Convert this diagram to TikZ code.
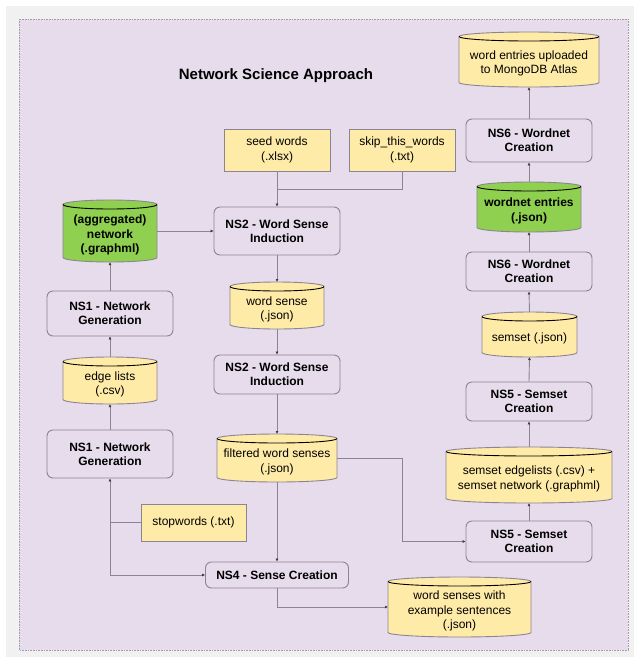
\documentclass[tikz,border=0pt]{standalone}
\usepackage{fontspec}
\setmainfont{Liberation Sans}
\usetikzlibrary{arrows.meta}
\definecolor{bggray}{RGB}{241,241,241}
\definecolor{panel}{RGB}{230,220,235}
\definecolor{stroke}{RGB}{140,132,146}
\definecolor{yel}{RGB}{255,235,168}
\definecolor{grn}{RGB}{143,208,80}
\definecolor{tip}{RGB}{60,60,60}
\tikzset{
  txt/.style={font=\fontsize{12}{14.4}\selectfont, align=center, inner sep=0pt},
  proc/.style={txt, draw=stroke, line width=0.9pt, rounded corners=6pt, font=\fontsize{12}{14.4}\selectfont\bfseries},
  filebox/.style={txt, draw=stroke, line width=0.9pt, fill=yel},
  conn/.style={draw=stroke, line width=0.9pt},
  arr/.style={conn, -{Latex[length=3pt,width=3pt,color=tip]}},
}
% \cyl{name}{cx}{cy}{w}{h}{fill}{font}{text}
\newcommand\cyl[8]{%
  \pgfmathsetmacro\cxa{#2-#4/2}%
  \pgfmathsetmacro\cxb{#2+#4/2}%
  \pgfmathsetmacro\cyt{#3-#5/2+4.5}%
  \pgfmathsetmacro\cyb{#3+#5/2-4.5}%
  \pgfmathsetmacro\kx{0.5523*#4/2}%
  \pgfmathsetmacro\ky{0.5523*4.5}%
  \path[fill=#6, draw=stroke, line width=0.9pt]
    (\cxa,\cyt) -- (\cxa,\cyb)
    .. controls (\cxa,\cyb+\ky) and (#2-\kx,\cyb+4.5) .. (#2,\cyb+4.5)
    .. controls (#2+\kx,\cyb+4.5) and (\cxb,\cyb+\ky) .. (\cxb,\cyb)
    -- (\cxb,\cyt)
    .. controls (\cxb,\cyt-\ky) and (#2+\kx,\cyt-4.5) .. (#2,\cyt-4.5)
    .. controls (#2-\kx,\cyt-4.5) and (\cxa,\cyt-\ky) .. (\cxa,\cyt) -- cycle;
  \draw[stroke, line width=0.9pt]
    (\cxa,\cyt) .. controls (\cxa,\cyt+\ky) and (#2-\kx,\cyt+4.5) .. (#2,\cyt+4.5)
    .. controls (#2+\kx,\cyt+4.5) and (\cxb,\cyt+\ky) .. (\cxb,\cyt);
  \node[txt, font=\fontsize{12}{14.4}\selectfont#7, minimum width=#4, minimum height=#5] (#1) at ({#2},{#3+4}) {#8};
  \coordinate (#1-n) at ({#2},{#3-#5/2});
  \coordinate (#1-s) at ({#2},{#3+#5/2});
  \coordinate (#1-w) at ({#2-#4/2},{#3});
  \coordinate (#1-e) at ({#2+#4/2},{#3});
}
\begin{document}
\begin{tikzpicture}[x=1pt,y=-1pt]
\useasboundingbox (0,0) rectangle (634,657);
\fill[white] (0,0) rectangle (634,657);
\fill[bggray] (6,6) rectangle (634,657);
\draw[fill=panel, draw=stroke!80, densely dotted, line width=0.6pt] (19,19) rectangle (628,650);

\node[font=\fontsize{15}{18}\selectfont\bfseries] (title) at (276,76) {Network Science Approach};

% yellow rectangles
\node[filebox, minimum width=106, minimum height=42] (seed) at (277,150) {seed words\\(.xlsx)};
\node[filebox, minimum width=106, minimum height=42] (skip) at (402,150) {skip\_this\_words\\(.txt)};
\node[filebox, minimum width=105, minimum height=37] (stop) at (193.5,522.5) {stopwords (.txt)};

% processes
\node[proc, minimum width=126, minimum height=48] (ns2a) at (277,231) {NS2 - Word Sense\\Induction};
\node[proc, minimum width=126, minimum height=39] (ns2b) at (277,374.5) {NS2 - Word Sense\\Induction};
\node[proc, minimum width=126, minimum height=45] (ns1a) at (110,313.5) {NS1 - Network\\Generation};
\node[proc, minimum width=126, minimum height=48] (ns1b) at (110,454) {NS1 - Network\\Generation};
\node[proc, minimum width=143, minimum height=26] (ns4) at (277,575) {NS4 - Sense Creation};
\node[proc, minimum width=126, minimum height=41] (ns5b) at (529,541.5) {NS5 - Semset\\Creation};
\node[proc, minimum width=126, minimum height=39] (ns5a) at (529,401.5) {NS5 - Semset\\Creation};
\node[proc, minimum width=126, minimum height=39] (ns6b) at (529,271.5) {NS6 - Wordnet\\Creation};
\node[proc, minimum width=126, minimum height=43] (ns6a) at (529,140.5) {NS6 - Wordnet\\Creation};

% cylinders
\cyl{net}{110}{231}{94}{62}{grn}{\bfseries}{(aggregated)\\network\\(.graphml)}
\cyl{edge}{110}{380.5}{94}{47}{yel}{}{edge lists\\(.csv)}
\cyl{ws}{277}{305.5}{94}{47}{yel}{}{word sense\\(.json)}
\cyl{filt}{277}{458}{120}{48}{yel}{}{filtered word senses\\(.json)}
\cyl{wse}{459.5}{607}{143}{60}{yel}{}{word senses with\\example sentences\\(.json)}
\cyl{sedge}{529}{475}{166}{56}{yel}{}{semset edgelists (.csv) +\\semset network (.graphml)}
\cyl{semset}{529.5}{334.5}{95}{45}{yel}{}{semset (.json)}
\cyl{wne}{529}{207}{104}{50}{grn}{\bfseries}{wordnet entries\\(.json)}
\cyl{mongo}{529}{59.5}{140}{55}{yel}{}{word entries uploaded\\to MongoDB Atlas}

% connectors
\coordinate (j1) at (277,189);
\draw[arr] (seed.south) -- (ns2a.north);
\draw[conn] (skip.south) |- (j1);
\draw[arr] (net-e) -- (ns2a.west);
\draw[arr] (ns1a.north) -- (net-s);
\draw[arr] (edge-n) -- (ns1a.south);
\draw[arr] (ns1b.north) -- (edge-s);
\draw[arr] (stop.west) -| (ns1b.south);
\coordinate (j2) at (ns1b.south |- stop.west);
\draw[arr] (j2) |- (ns4.west);
\draw[arr] (ns2a.south) -- (ws-n);
\draw[arr] (ws-s) -- (ns2b.north);
\draw[arr] (ns2b.south) -- (filt-n);
\draw[arr] (filt-s) -- (ns4.north);
\coordinate (j3) at (402,458);
\draw[conn] (filt-e) -- (j3);
\draw[arr] (j3) |- (ns5b.west);
\draw[arr] (ns4.south) |- (wse-w);
\draw[arr] (ns5b.north) -- (sedge-s);
\draw[arr] (sedge-n) -- (ns5a.south);
\draw[arr] (ns5a.north) -- (semset-s);
\draw[arr] (semset-n) -- (ns6b.south);
\draw[arr] (ns6b.north) -- (wne-s);
\draw[arr] (wne-n) -- (ns6a.south);
\draw[arr] (ns6a.north) -- (mongo-s);
\end{tikzpicture}
\end{document}
